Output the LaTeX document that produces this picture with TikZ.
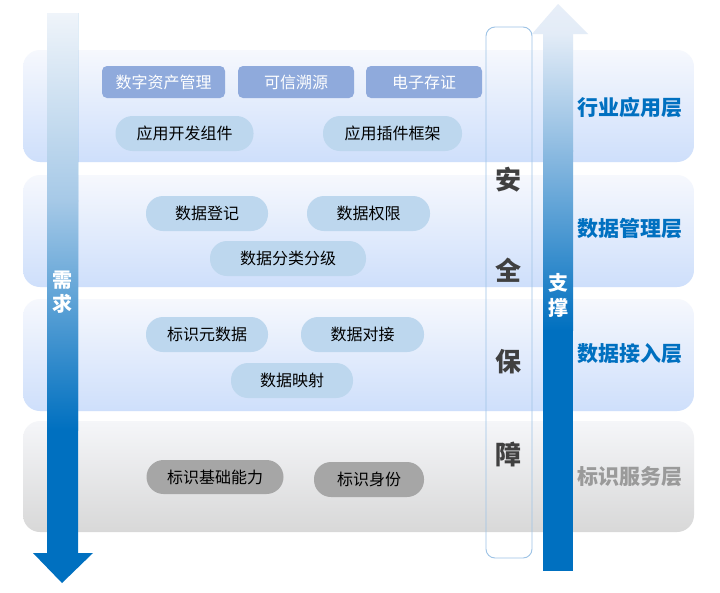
\documentclass[tikz,border=0pt]{standalone}
\usepackage{fontspec}
\setmainfont{Noto Sans CJK SC}
\definecolor{arrowblue}{HTML}{0070C0}
\definecolor{layertop}{HTML}{F6F8FD}
\definecolor{layerbot}{HTML}{CEDFFB}
\definecolor{graytop}{HTML}{F5F6F9}
\definecolor{graybot}{HTML}{D8D8D8}
\definecolor{pillblue}{HTML}{BDD7EE}
\definecolor{boxblue}{HTML}{8FAADC}
\definecolor{pillgray}{HTML}{A6A6A6}
\definecolor{secline}{HTML}{9DC3E6}
\definecolor{sectext}{HTML}{404040}
\definecolor{lbar0}{HTML}{EFF4FA}
\definecolor{lbar1}{HTML}{A6C9E7}
\definecolor{rbar0}{HTML}{E3ECF7}
\definecolor{rbar1}{HTML}{8DBBE1}
\definecolor{rhead}{HTML}{E7EEF8}
\definecolor{graylbl}{HTML}{9A9A9A}
\begin{document}
\begin{tikzpicture}[x=1pt,y=-1pt,
  layer/.style={rounded corners=17pt, top color=layertop, bottom color=layerbot},
  graylayer/.style={rounded corners=17pt, top color=graytop, bottom color=graybot},
  topbox/.style={fill=boxblue, rounded corners=5pt, minimum height=32pt, inner sep=0pt,
    text=white, font=\fontsize{16}{19}\selectfont},
  pill/.style={fill=pillblue, rounded corners=17pt, minimum height=35pt, inner sep=0pt,
    text=black, font=\fontsize{16}{19}\selectfont},
  graypill/.style={pill, fill=pillgray},
  sectxt/.style={text=sectext, font=\fontsize{26}{30}\selectfont\bfseries, inner sep=0pt},
  bartxt/.style={text=white, font=\fontsize{20}{24}\selectfont\bfseries, inner sep=0pt},
  lbl/.style={text=arrowblue, font=\fontsize{21}{25}\selectfont\bfseries, inner sep=0pt},
]
\useasboundingbox (0,0) rectangle (720,592);
\fill[white] (0,0) rectangle (720,592);

% layers
\shade[layer] (23,50) rectangle (694,162);
\shade[layer] (23,175) rectangle (694,287);
\shade[layer] (23,299) rectangle (694,411);
\shade[graylayer] (23,421) rectangle (694,532);

% left arrow (demand)
\fill[arrowblue] (47,13) -- (78,13) -- (78,553) -- (93,553) -- (62,583) -- (33,553) -- (47,553) -- cycle;
\shade[top color=lbar0, bottom color=lbar1] (47,13) rectangle (78,201);
\shade[top color=lbar1, bottom color=arrowblue] (47,200) rectangle (78,430);
\node[bartxt] (xu) at (62,280) {需};
\node[bartxt] (qiu) at (62,304) {求};

% right arrow (support)
\fill[arrowblue] (543,33.5) rectangle (573,571);
\shade[top color=rbar0, bottom color=rbar1] (543,33) rectangle (573,151);
\shade[top color=rbar1, bottom color=arrowblue] (543,150) rectangle (573,330);
\shade[top color=rhead, bottom color=rbar0] (558,4) -- (588,34) -- (532,34) -- cycle;
\node[bartxt] (zhi) at (558,283) {支};
\node[bartxt] (cheng) at (558,308) {撑};

% security column
\draw[secline, line width=0.9pt, rounded corners=9pt] (486,27) rectangle (532,558);
\node[sectxt] (an) at (508,180) {安};
\node[sectxt] (quan) at (508,270) {全};
\node[sectxt] (bao) at (508,362) {保};
\node[sectxt] (zhang) at (508,454) {障};

% layer 1
\node[topbox, minimum width=123pt] (b1) at (163.5,82) {数字资产管理};
\node[topbox, minimum width=116pt] (b2) at (296,82) {可信溯源};
\node[topbox, minimum width=116pt] (b3) at (424,82) {电子存证};
\node[pill, minimum width=138pt] (p1) at (184.5,133.5) {应用开发组件};
\node[pill, minimum width=139pt] (p2) at (392.5,133.5) {应用插件框架};

% layer 2
\node[pill, minimum width=122pt] (p3) at (207,213.5) {数据登记};
\node[pill, minimum width=123pt] (p4) at (368.5,213.5) {数据权限};
\node[pill, minimum width=156pt] (p5) at (288,258.5) {数据分类分级};

% layer 3
\node[pill, minimum width=122pt] (p6) at (207,334.5) {标识元数据};
\node[pill, minimum width=123pt] (p7) at (362.5,334.5) {数据对接};
\node[pill, minimum width=122pt] (p8) at (292,380.5) {数据映射};

% layer 4
\node[graypill, minimum width=137pt, minimum height=34pt] (p9) at (215,477) {标识基础能力};
\node[graypill, minimum width=110pt] (p10) at (369,479.5) {标识身份};

% layer labels
\node[lbl] (L1) at (630,107) {行业应用层};
\node[lbl] (L2) at (630,229) {数据管理层};
\node[lbl] (L3) at (630,354) {数据接入层};
\node[lbl, text=graylbl] (L4) at (630,477) {标识服务层};
\end{tikzpicture}
\end{document}
